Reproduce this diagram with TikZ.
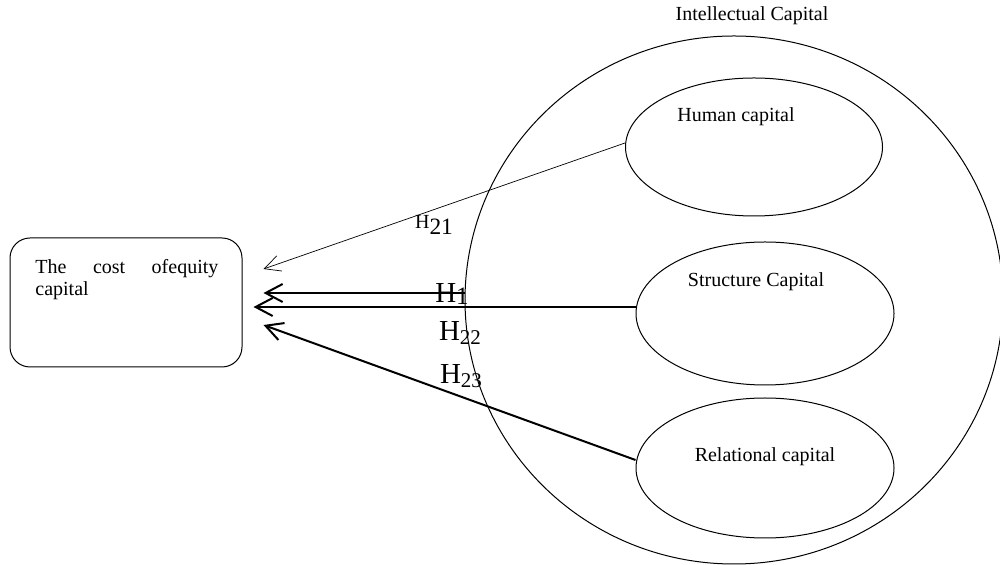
\documentclass[tikz,border=0pt]{standalone}
\usepackage{fontspec}
\setmainfont{Liberation Serif}
\usetikzlibrary{arrows.meta,shapes.geometric}

\newcommand\hsub[1]{H\raisebox{-2pt}{\fontsize{10.5}{12}\selectfont #1}}

\begin{document}
\begin{tikzpicture}[
  x=0.5pt, y=-0.5pt,
  >={Straight Barb[length=8.5pt,width=9pt]},
  capital/.style={ellipse, draw=black, line width=0.5pt, inner sep=0pt},
  word/.style={font=\fontsize{10}{11}\selectfont, inner sep=0pt},
  hypo/.style={font=\fontsize{14.5}{16}\selectfont, inner sep=0pt},
  link/.style={->, line width=1pt}
]
  \useasboundingbox (0,0) rectangle (1000,565);

  % intellectual capital and its parts
  \node[capital, minimum width=269pt, minimum height=264pt] (intellect) at (734,300) {};
  \node[word] (intellectlabel) at (752,16) {Intellectual Capital};
  \node[capital, minimum width=128.5pt, minimum height=69pt] (human) at (754,147) {};
  \node[word] (humanlabel) at (736,117) {Human capital};
  \node[capital, minimum width=129pt, minimum height=71.5pt] (structure) at (765,313.5) {};
  \node[word] (structurelabel) at (756,282) {Structure Capital};
  \node[capital, minimum width=129pt, minimum height=70pt] (relational) at (765,468) {};
  \node[word] (relationallabel) at (765,457) {Relational capital};

  % cost of equity
  \node[
    draw=black,
    rounded corners=10pt,
    line width=0.5pt,
    minimum width=116pt,
    minimum height=64.5pt,
    inner sep=0pt
  ] (cost) at (126,302.5) {};
  \node[word, text width=91.5pt, align=justify, anchor=north west] (costlabel)
    at (35,259) {The cost ofequity\linebreak capital};

  % hypotheses
  \draw[->, line width=0.35pt, >={Straight Barb[length=8pt,width=8pt]}]
    ([shift={(0,-4)}]human.west) -- ([shift={(21,-33.5)}]cost.east);
  \draw[link] ([shift={(0,-7)}]intellect.west) -- ([shift={(21,-9.5)}]cost.east);
  \draw[link] ([shift={(0,-6.5)}]structure.west) -- ([shift={(11,4.5)}]cost.east);
  \draw[link] ([shift={(0,-8)}]relational.west) -- ([shift={(21,22.5)}]cost.east);

  \node[inner sep=0pt] (h21) at (434,225)
    {{\fontsize{10}{12}\selectfont H}\raisebox{-3pt}{\fontsize{11.7}{13}\selectfont 21}};
  \node[hypo] (h1) at (452,294) {H\raisebox{-1pt}{\fontsize{12.5}{14}\selectfont 1}};
  \node[hypo] (h22) at (460,333) {\hsub{22}};
  \node[hypo] (h23) at (461,376) {\hsub{23}};
\end{tikzpicture}
\end{document}
